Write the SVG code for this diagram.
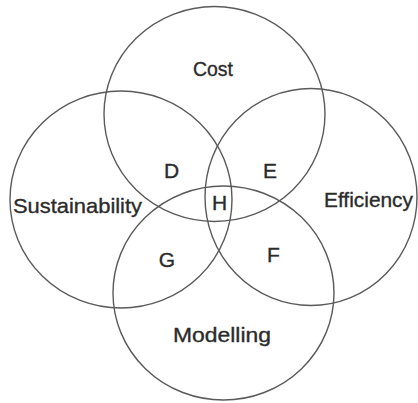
<svg xmlns="http://www.w3.org/2000/svg" width="418" height="403" viewBox="0 0 418 403">
  <style>
    .ring { fill: none; stroke: #5a5a5a; stroke-width: 1.4; }
    .label { font-family: "Liberation Sans", Arial, sans-serif; font-size: 21px; fill: #2b2b2b; stroke: #2b2b2b; stroke-width: 0.35; text-anchor: middle; }
  </style>
  <rect width="418" height="403" fill="#fff"/>
  <g id="sets">
    <g id="cost">
      <ellipse class="ring" cx="214.5" cy="114" rx="110.5" ry="107.5"/>
      <text class="label" x="213" y="76" textLength="40" lengthAdjust="spacingAndGlyphs">Cost</text>
    </g>
    <g id="sustainability">
      <ellipse class="ring" cx="121" cy="199.5" rx="111" ry="108.5"/>
      <text class="label" x="77.5" y="213" textLength="129" lengthAdjust="spacingAndGlyphs">Sustainability</text>
    </g>
    <g id="efficiency">
      <ellipse class="ring" cx="311" cy="197" rx="106" ry="108.5"/>
      <text class="label" x="368.5" y="207" textLength="89" lengthAdjust="spacingAndGlyphs">Efficiency</text>
    </g>
    <g id="modelling">
      <ellipse class="ring" cx="223.5" cy="293" rx="110.5" ry="107"/>
      <text class="label" x="222" y="342" textLength="98" lengthAdjust="spacingAndGlyphs">Modelling</text>
    </g>
  </g>
  <g id="regions">
    <g id="region-d"><text class="label" x="171.5" y="178">D</text></g>
    <g id="region-e"><text class="label" x="270" y="178">E</text></g>
    <g id="region-h"><text class="label" x="219.5" y="210">H</text></g>
    <g id="region-g"><text class="label" x="167" y="267">G</text></g>
    <g id="region-f"><text class="label" x="273.5" y="262">F</text></g>
  </g>
</svg>
